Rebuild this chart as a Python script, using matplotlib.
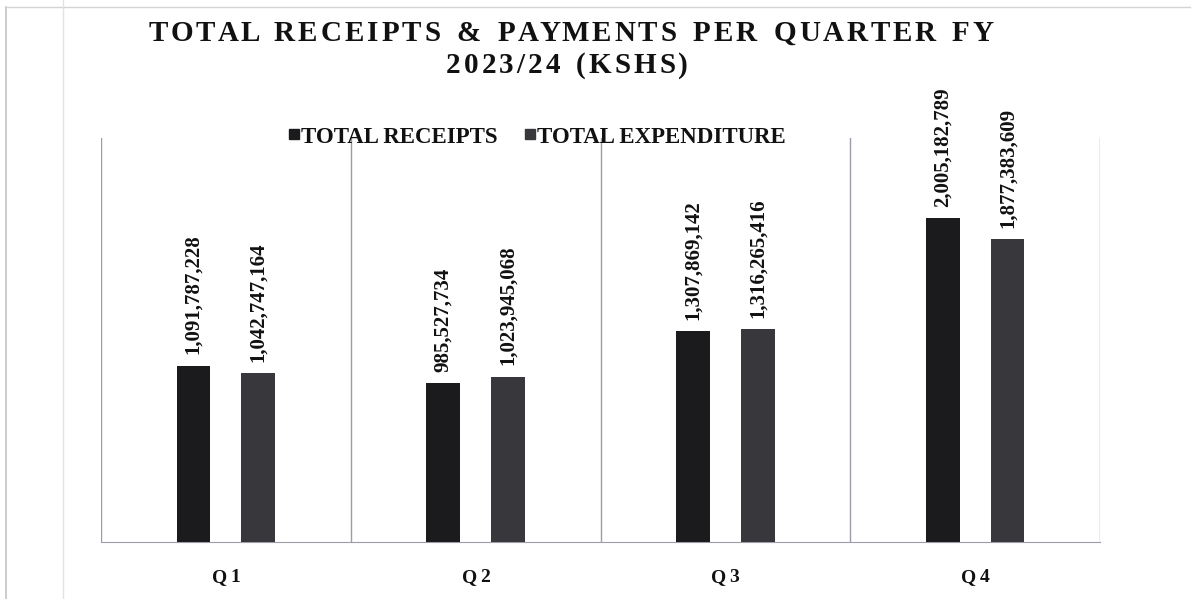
import matplotlib
matplotlib.use("Agg")
import numpy as np
import matplotlib.pyplot as plt
from matplotlib.font_manager import FontProperties
from matplotlib.lines import Line2D

quarters = ["Q1", "Q2", "Q3", "Q4"]
receipts = [1091787228, 985527734, 1307869142, 2005182789]
expenditure = [1042747164, 1023945068, 1316265416, 1877383609]
series_names = ["TOTAL RECEIPTS", "TOTAL EXPENDITURE"]
title_lines = ["TOTAL RECEIPTS & PAYMENTS PER QUARTER FY", "2023/24 (KSHS)"]

W, H = 1197, 599
fig = plt.figure(figsize=(W / 100, H / 100), dpi=100)
fig.patch.set_facecolor("white")
serif = "Liberation Serif"
grid_col = "#9d9daa"


def spaced_text(s, xc, y_base, size, spacing, word_extra=0):
    # draw text char by char so we get letter spacing like the original
    prop = FontProperties(family=serif, weight="bold", size=size)
    r = fig.canvas.get_renderer()
    ref = r.get_text_width_height_descent("I", prop, ismath=False)[0]
    adv = [r.get_text_width_height_descent(s[:i] + "I", prop, ismath=False)[0] - ref
           for i in range(len(s) + 1)]
    shift = []
    acc = 0
    for i, ch in enumerate(s):
        shift.append(acc + i * spacing)
        if ch == " ":
            acc += word_extra
    total = adv[-1] + shift[-1]
    x0 = xc - total / 2
    for i, ch in enumerate(s):
        if ch == " ":
            continue
        fig.text((x0 + adv[i] + shift[i]) / W, 1 - y_base / H, ch,
                 fontproperties=prop, ha="left", va="baseline", color="#111111")


# page frame / scan artifacts
fig.add_artist(Line2D([6 / W, 6 / W], [0, 1 - 7 / H], color="#c4c4c8", lw=1.2))
fig.add_artist(Line2D([6 / W, 1190 / W], [1 - 7 / H, 1 - 7 / H], color="#d4d4d8", lw=1))
fig.add_artist(Line2D([63 / W, 63 / W], [0, 1], color="#f3d9e6", lw=1))

ax = fig.add_axes([101 / W, (H - 542) / H, 999 / W, 404 / H])
x = np.arange(len(quarters))
bw = 0.135
off = 0.13
b1 = ax.bar(x - off, receipts, bw, color="#1b1b1d", label=series_names[0], zorder=3)
b2 = ax.bar(x + off, expenditure, bw, color="#38383c", label=series_names[1], zorder=3)

ax.set_xlim(-0.5, len(quarters) - 0.5)
ax.set_ylim(0, 2.5e9)
for xb in np.arange(-0.5, len(quarters), 1.0):
    ax.axvline(xb, color=grid_col, lw=1, zorder=1)
for s in ["left", "right", "top"]:
    ax.spines[s].set_visible(False)
ax.spines["bottom"].set_color(grid_col)
ax.set_yticks([])
ax.set_xticks(x)
ax.set_xticklabels([])
ax.tick_params(axis="x", length=0)

lab_prop = FontProperties(family=serif, weight="bold", size=15)
for bars, vals in [(b1, receipts), (b2, expenditure)]:
    for rect, v in zip(bars, vals):
        ax.annotate(f"{v:,}", (rect.get_x() + rect.get_width() / 2, v),
                    xytext=(0, 8), textcoords="offset points", rotation=90,
                    ha="center", va="bottom", fontproperties=lab_prop, color="#111111")

leg = fig.legend(handles=[
    Line2D([], [], marker="s", ls="", color="#1b1b1d", markersize=7, label=series_names[0]),
    Line2D([], [], marker="s", ls="", color="#38383c", markersize=7, label=series_names[1])],
    loc="center", bbox_to_anchor=(537 / W, 1 - 137 / H), ncol=2, frameon=False,
    handlelength=0.5, handletextpad=0.05, columnspacing=1.2,
    prop=FontProperties(family=serif, weight="bold", size=16.5))
for t in leg.get_texts():
    t.set_color("#111111")

fig.canvas.draw()
spaced_text(title_lines[0], 571, 41, 21, 3, word_extra=3)
spaced_text(title_lines[1], 567, 73, 21, 3, word_extra=3)

for xi, q in zip(x, quarters):
    px = ax.transData.transform((xi, 0))[0]
    spaced_text(q, px, 582, 14, 3)

fig.savefig("out.png", dpi=100)
